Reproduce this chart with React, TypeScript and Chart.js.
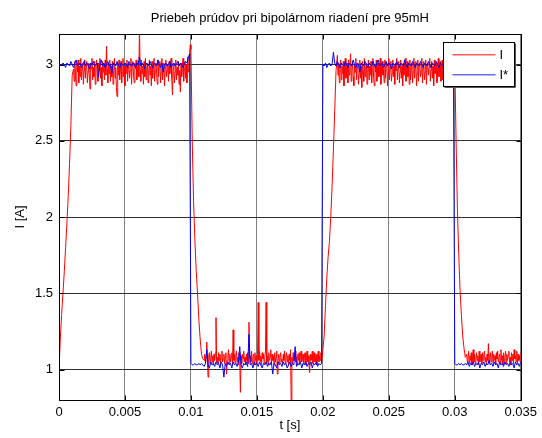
import { useEffect, useRef } from 'react';
import { Chart, registerables } from 'chart.js';

Chart.register(...registerables);

// ---------- text ----------
const chartTitle = 'Priebeh prúdov pri bipolárnom riadení pre 95mH';
const xAxisTitle = 't [s]';
const yAxisTitle = 'I [A]';
const seriesLabels = ['I', 'I*'];

// ---------- axes ----------
const xMin = 0;
const xMax = 0.035;
const yMin = 0.8;
const yMax = 3.2;
const xTickValues = [0, 0.005, 0.01, 0.015, 0.02, 0.025, 0.03, 0.035];
const xTickLabels = ['0', '0.005', '0.01', '0.015', '0.02', '0.025', '0.03', '0.035'];
const yTickValues = [1, 1.5, 2, 2.5, 3];
const yTickLabels = ['1', '1.5', '2', '2.5', '3'];

// ---------- measured current I (segments with their own start time and sample step) ----------
const I_RISE_1 = [1.0, 1.2, 1.36, 1.5, 1.64, 1.8, 1.96, 2.14, 2.35, 2.6, 2.93];
const I_HIGH_1 = [
  2.97, 2.89, 3.02, 2.93, 2.86, 3.01, 2.95, 3.03, 2.88, 2.99,
  2.92, 3.04, 2.90, 2.97, 3.01, 2.87, 2.96, 3.03, 2.91, 2.99,
  3.02, 2.88, 2.95, 3.01, 2.93, 2.84, 3.00, 2.97, 3.04, 2.90,
  2.98, 2.92, 3.02, 2.87, 2.99, 3.03, 2.94, 2.89, 3.01, 2.96,
  3.04, 2.91, 2.98, 2.86, 3.02, 2.95, 3.00, 2.90, 3.03, 2.93,
  3.12, 2.97, 2.88, 3.01, 2.94, 3.03, 2.89, 2.99, 2.92, 3.02,
  2.87, 2.96, 3.04, 2.91, 2.98, 2.85, 2.79, 3.01, 2.93, 3.03,
  2.90, 2.97, 3.02, 2.88, 2.95, 3.04, 2.92, 2.99, 2.86, 3.01,
  2.94, 3.03, 2.89, 2.98, 3.00, 2.91, 2.96, 3.04, 2.87, 2.99,
  3.02, 2.93, 2.88, 3.01, 2.97, 3.03, 2.90, 2.95, 3.02, 2.92,
  3.25, 2.96, 2.89, 3.03, 2.94, 2.99, 2.87, 3.02, 2.92, 3.04,
  2.90, 2.97, 3.01, 2.88, 2.95, 3.03, 2.93, 2.99, 2.86, 3.02,
  2.91, 2.98, 3.04, 2.89, 2.96, 3.01, 2.94, 2.87, 3.03, 2.92,
  2.99, 3.02, 2.88, 2.95, 3.04, 2.90, 2.97, 3.01, 2.86, 2.98,
  3.03, 2.92, 2.96, 3.00, 2.89, 3.02, 2.94, 2.99, 3.04, 2.91,
  2.80, 2.97, 3.01, 2.88, 2.95, 3.03, 2.90, 2.98, 2.93, 3.02,
  2.87, 2.96, 2.82, 3.01, 2.92, 2.99, 3.04, 2.89, 2.97, 3.02,
  2.91, 3.00, 2.88, 3.05, 2.95, 3.03, 3.08, 3.13,
];
const I_FALL_1 = [3.1, 2.5, 2.1, 1.85, 1.65, 1.5, 1.33, 1.2, 1.1, 1.07];
const I_LOW_1 = [
  1.06, 1.10, 1.04, 1.08, 1.18, 1.05, 0.95, 1.09, 1.11, 1.04,
  1.07, 1.12, 1.05, 1.09, 1.03, 1.10, 1.06, 1.11, 1.34, 1.05,
  1.08, 1.04, 1.11, 1.06, 1.10, 1.03, 1.09, 1.12, 1.05, 1.07,
  1.10, 1.04, 1.08, 1.11, 0.97, 1.06, 1.09, 1.13, 1.04, 1.10,
  1.05, 1.08, 1.11, 1.03, 1.26, 1.06, 1.10, 1.04, 1.09, 1.12,
  1.05, 1.08, 1.03, 1.11, 1.06, 0.85, 1.09, 1.04, 1.10, 1.07,
  1.12, 1.05, 1.08, 1.03, 1.10, 1.06, 1.11, 1.04, 1.31, 1.07,
  1.09, 1.05, 1.12, 1.04, 1.08, 1.10, 1.03, 1.11, 1.06, 1.09,
  1.04, 1.10, 1.44, 1.06, 1.12, 1.05, 1.09, 1.03, 1.11, 1.07,
  1.10, 1.04, 1.08, 1.12, 1.44, 1.05, 1.09, 1.03, 1.11, 1.06,
  1.08, 1.13, 1.04, 1.10, 1.06, 1.09, 1.03, 1.11, 1.05, 1.08,
  1.12, 0.97, 1.06, 1.10, 1.04, 1.09, 1.11, 1.05, 1.07, 1.03,
  1.10, 1.06, 1.12, 1.04, 1.08, 1.11, 1.05, 1.09, 1.03, 1.10,
  1.06, 1.13, 0.78, 1.08, 1.04, 1.11, 1.06, 1.09, 1.12, 1.05,
  1.08, 1.03, 1.10, 1.06, 1.11, 1.04, 1.09, 1.12, 1.05, 1.07,
  1.10, 1.04, 1.08, 1.11, 1.03, 1.06, 1.12, 1.05, 1.09, 1.04,
  0.98, 1.10, 1.06, 1.08, 1.12, 1.04, 1.09, 1.11, 1.05, 1.07,
  1.10, 1.03, 1.08, 1.12, 1.05, 1.09, 1.06, 1.11, 1.04, 1.08,
];
const I_RISE_2 = [1.08, 1.22, 1.42, 1.6, 1.74, 1.84, 2.0, 2.2, 2.44, 2.7, 2.96];
const I_HIGH_2 = [
  3.06, 2.93, 3.01, 2.88, 2.97, 3.03, 2.90, 2.99, 2.94, 3.02,
  2.86, 2.98, 3.04, 2.91, 2.96, 3.01, 2.88, 3.03, 2.93, 2.99,
  3.07, 2.89, 2.97, 3.02, 2.92, 2.86, 3.00, 2.95, 3.04, 2.90,
  2.98, 3.01, 2.87, 2.94, 3.03, 2.91, 2.99, 2.85, 3.02, 2.96,
  2.89, 3.04, 2.92, 2.98, 3.01, 2.87, 2.95, 3.03, 2.90, 2.99,
  2.93, 3.02, 2.88, 2.97, 3.04, 2.91, 2.86, 3.00, 2.95, 3.03,
  2.89, 2.98, 3.01, 2.92, 2.96, 3.04, 2.87, 2.99, 3.02, 2.93,
  2.97, 2.88, 3.03, 2.91, 2.99, 3.01, 2.86, 2.95, 3.04, 2.90,
  2.98, 3.02, 2.89, 2.94, 3.03, 2.92, 2.99, 2.87, 3.01, 2.96,
  3.04, 2.90, 2.97, 3.02, 2.88, 2.95, 3.03, 2.91, 2.99, 2.86,
  3.01, 2.93, 2.98, 3.04, 2.89, 2.96, 3.02, 2.92, 2.99, 2.87,
  3.03, 2.90, 2.97, 3.01, 2.88, 2.95, 3.04, 2.91, 2.98, 3.02,
  2.86, 2.94, 3.03, 2.89, 2.99, 3.01, 2.92, 2.96, 3.04, 2.88,
  2.97, 3.02, 2.90, 2.95, 3.03, 2.87, 2.99, 3.01, 2.93, 2.98,
  3.04, 2.89, 2.96, 3.02, 2.91, 2.99, 2.86, 3.03, 2.94, 2.97,
  3.01, 2.88, 2.95, 3.04, 2.92, 2.98, 3.02, 2.89, 2.96, 3.03,
  2.90, 2.99, 2.87, 3.01, 2.94, 2.98, 3.04, 2.91, 2.96, 3.02,
  2.88, 2.97, 3.03, 2.92, 2.99, 3.01, 2.89, 2.96, 3.02,
];
const I_FALL_2 = [2.5, 2.05, 1.76, 1.52, 1.36, 1.22, 1.14, 1.08];
const I_LOW_2 = [
  1.10, 1.05, 1.08, 1.12, 1.04, 1.09, 1.06, 1.11, 1.03, 1.08,
  1.13, 1.05, 1.10, 1.04, 1.07, 1.11, 1.06, 1.09, 1.03, 1.12,
  1.05, 1.08, 1.10, 1.04, 1.11, 1.06, 1.09, 1.12, 1.05, 1.08,
  1.03, 1.10, 1.06, 1.17, 1.04, 1.09, 1.11, 1.05, 1.08, 1.12,
  1.04, 1.10, 1.06, 1.09, 1.03, 1.11, 1.07, 1.12, 1.05, 1.08,
  1.10, 1.04, 1.13, 1.06, 1.09, 1.03, 1.11, 1.05, 1.08, 1.12,
  1.04, 1.10, 1.06, 1.09, 1.12, 1.05, 1.08, 1.03, 1.11, 1.06,
  1.10, 1.04, 1.13, 1.07, 1.09, 1.05, 1.12, 1.04, 1.10, 1.06,
  1.09, 1.05, 1.11,
];
const I_SEGMENTS = [I_RISE_1, I_HIGH_1, I_FALL_1, I_LOW_1, I_RISE_2, I_HIGH_2, I_FALL_2, I_LOW_2];
const I_SEGMENT_STARTS = [0, 0.0011, 0.01, 0.011, 0.02, 0.0211, 0.0301, 0.0309];
const I_SEGMENT_STEPS = [0.0001, 0.00005, 0.0001, 0.00005, 0.0001, 0.00005, 0.0001, 0.00005];

// ---------- reference current I* ----------
const REF_START = [1.0];
const REF_HIGH_1 = [
  3.00, 3.00, 2.99, 3.01, 3.00, 2.98, 3.01, 3.00, 2.99, 3.02,
  3.00, 2.98, 3.01, 3.03, 2.99, 3.00, 3.01, 2.98, 3.00, 3.02,
  2.99, 3.01, 3.00, 2.97, 3.01, 3.00, 3.02, 2.99, 3.00, 3.01,
  2.92, 3.00, 3.03, 2.99, 3.01, 2.98, 3.00, 3.02, 2.99, 3.00,
  2.94, 3.01, 3.00, 2.99, 3.02, 3.00, 2.98, 3.01, 3.00, 2.99,
  3.01, 3.00, 2.98, 3.02, 3.00, 2.99, 3.01, 3.00, 2.98, 3.01,
  3.00, 3.05, 2.99, 3.01, 3.00, 2.97, 3.01, 3.00, 2.99, 3.02,
  3.00, 2.98, 3.01, 3.00, 2.99, 3.03, 3.00, 2.98, 3.01, 2.95,
  3.00, 3.01, 2.99, 3.00, 3.02, 2.98, 3.00, 3.01, 2.99, 3.00,
  3.02, 2.99, 3.01, 3.00, 2.98, 3.01, 3.02, 3.01, 3.04, 3.07,
];
const REF_LOW_1 = [
  1.04, 1.03, 1.03, 1.04, 1.03, 1.03, 1.04, 1.03, 1.04, 1.03,
  1.02, 1.04, 1.13, 1.03, 1.01, 1.05, 1.03, 1.04, 1.02, 1.05,
  1.03, 1.04, 1.01, 1.05, 1.03, 0.95, 1.04, 1.02, 1.05, 1.03,
  1.04, 1.01, 1.05, 1.03, 1.04, 1.02, 1.05, 1.15, 1.03, 1.01,
  1.04, 1.03, 1.05, 1.02, 1.23, 1.03, 1.04, 1.01, 1.05, 1.03,
  1.04, 1.02, 1.05, 1.03, 1.01, 1.04, 1.03, 1.05, 1.02, 1.04,
  1.03, 1.05, 0.97, 1.04, 1.03, 1.01, 1.05, 1.03, 1.04, 1.02,
  1.05, 1.03, 1.04, 1.01, 1.03, 1.05, 1.02, 1.04, 1.03, 1.15,
  1.02, 1.04, 1.03, 1.05, 1.01, 1.04, 1.03, 1.05, 1.02, 1.04,
  1.03, 1.05, 1.01, 1.04, 1.03, 1.05, 1.02, 1.04, 1.03, 1.04,
];
const REF_HIGH_2 = [
  3.00, 2.99, 3.01, 2.98, 3.00, 3.01, 2.99, 3.00, 3.08, 3.01,
  2.99, 3.02, 3.00, 2.98, 3.01, 3.00, 2.99, 3.02, 3.00, 2.98,
  3.01, 3.00, 2.99, 3.03, 3.00, 2.98, 3.01, 3.00, 2.95, 3.01,
  3.00, 2.99, 3.02, 3.00, 2.98, 3.01, 3.00, 2.99, 3.02, 3.00,
  2.98, 3.01, 3.03, 2.99, 3.00, 3.01, 2.98, 3.00, 3.02, 2.99,
  3.01, 3.00, 2.97, 3.01, 3.00, 2.99, 3.02, 3.00, 2.98, 3.01,
  3.00, 2.99, 3.03, 3.00, 2.98, 3.01, 3.00, 2.99, 3.02, 3.00,
  2.98, 3.01, 3.00, 2.99, 3.02, 3.00, 2.98, 3.01, 3.00, 2.99,
  3.02, 3.00, 2.98, 3.01, 3.00, 2.99, 3.02, 3.00, 2.98, 3.01,
  3.00, 2.99, 3.02, 3.00, 2.98, 3.01, 3.00, 2.99, 3.01, 3.00,
];
const REF_LOW_2 = [
  1.04, 1.03, 1.03, 1.04, 1.03, 1.04, 1.03, 1.03, 1.04, 1.03,
  1.05, 1.02, 1.04, 1.03, 1.05, 1.02, 1.04, 1.03, 1.05, 1.01,
  1.04, 1.03, 1.05, 1.02, 1.04, 1.03, 1.06, 1.03, 1.04, 1.02,
  1.05, 1.03, 1.04, 1.01, 1.05, 1.03, 1.04, 1.02, 1.05, 1.03,
  1.04, 1.02, 1.05, 1.03, 1.04, 1.01, 1.05, 1.03, 1.04, 1.02, 1.05,
];
const REF_SEGMENTS = [REF_START, REF_HIGH_1, REF_LOW_1, REF_HIGH_2, REF_LOW_2];
const REF_SEGMENT_STARTS = [0, 0, 0.01, 0.02, 0.03];
const REF_SEGMENT_STEPS = [0.0001, 0.0001, 0.0001, 0.0001, 0.0001];

const seriesColors = ['#ff0000', '#0000ff'];

function buildPoints(segments: number[][], starts: number[], steps: number[]) {
  const pts: { x: number; y: number }[] = [];
  segments.forEach((seg, s) => {
    seg.forEach((v, k) => {
      pts.push({ x: +(starts[s] + k * steps[s]).toFixed(6), y: v });
    });
  });
  return pts;
}

const FONT = '"Liberation Sans", Arial, Helvetica, sans-serif';

const decorPlugin = {
  id: 'matlabDecor',
  afterDraw(chart: any) {
    const { ctx, chartArea: a, scales } = chart;
    ctx.save();
    ctx.globalAlpha = 1;
    // plot box
    ctx.strokeStyle = '#000';
    ctx.lineWidth = 1;
    const L = Math.round(a.left) + 0.5;
    const T = Math.round(a.top) + 0.5;
    const R = Math.round(a.right) + 0.5;
    const B = Math.round(a.bottom) + 0.5;
    ctx.strokeRect(L, T, R - L, B - T);
    // inward tick marks
    ctx.beginPath();
    xTickValues.forEach((v) => {
      const x = Math.round(scales.x.getPixelForValue(v)) + 0.5;
      ctx.moveTo(x, B);
      ctx.lineTo(x, B - 5);
      ctx.moveTo(x, T);
      ctx.lineTo(x, T + 5);
    });
    yTickValues.forEach((v) => {
      const y = Math.round(scales.y.getPixelForValue(v)) + 0.5;
      ctx.moveTo(L, y);
      ctx.lineTo(L + 5, y);
      ctx.moveTo(R, y);
      ctx.lineTo(R - 5, y);
    });
    ctx.stroke();

    // titles
    ctx.fillStyle = '#000';
    ctx.font = `13px ${FONT}`;
    ctx.textAlign = 'center';
    ctx.textBaseline = 'middle';
    const cx = (a.left + a.right) / 2;
    ctx.fillText(chartTitle, cx, a.top - 16);
    ctx.fillText(xAxisTitle, cx, a.bottom + 25);
    ctx.save();
    ctx.translate(a.left - 39, (a.top + a.bottom) / 2);
    ctx.rotate(-Math.PI / 2);
    ctx.fillText(yAxisTitle, 0, 0);
    ctx.restore();

    // legend box (inside plot, top right)
    const boxW = 71;
    const boxH = 44;
    const bx = Math.round(a.right) - 7 - boxW + 0.5;
    const by = Math.round(a.top) + 8 + 0.5;
    ctx.fillStyle = '#fff';
    ctx.fillRect(bx, by, boxW, boxH);
    ctx.strokeStyle = '#000';
    ctx.lineWidth = 1;
    ctx.strokeRect(bx, by, boxW, boxH);
    ctx.strokeStyle = '#555';
    ctx.beginPath();
    ctx.moveTo(bx + boxW + 1, by + 1);
    ctx.lineTo(bx + boxW + 1, by + boxH + 1);
    ctx.lineTo(bx + 1, by + boxH + 1);
    ctx.stroke();
    for (let i = 0; i < seriesLabels.length; i++) {
      const ly = Math.round(by + 11 + i * 20);
      ctx.fillStyle = i === 0 ? '#ff5a5a' : '#6a6aff';
      ctx.fillRect(bx + 9, ly, 43, 1.5);
      ctx.fillStyle = '#000';
      ctx.textAlign = 'left';
      ctx.font = `13px ${FONT}`;
      ctx.fillText(seriesLabels[i], bx + 56, ly + 1);
    }
    ctx.restore();
  },
};

export default function App() {
  const canvasRef = useRef<HTMLCanvasElement | null>(null);

  useEffect(() => {
    const canvas = canvasRef.current;
    if (!canvas) return;
    const iPoints = buildPoints(I_SEGMENTS, I_SEGMENT_STARTS, I_SEGMENT_STEPS);
    const refPoints = buildPoints(REF_SEGMENTS, REF_SEGMENT_STARTS, REF_SEGMENT_STEPS);

    const chart = new Chart(canvas, {
      type: 'line',
      data: {
        datasets: [
          {
            label: seriesLabels[0],
            data: iPoints,
            borderColor: seriesColors[0],
            backgroundColor: seriesColors[0],
            borderWidth: 1,
            pointRadius: 0,
            tension: 0,
            fill: false,
            order: 1,
          },
          {
            label: seriesLabels[1],
            data: refPoints,
            borderColor: seriesColors[1],
            backgroundColor: seriesColors[1],
            borderWidth: 1,
            pointRadius: 0,
            tension: 0,
            fill: false,
            order: 0,
          },
        ],
      },
      options: {
        animation: false,
        responsive: false,
        maintainAspectRatio: false,
        devicePixelRatio: 1,
        layout: { padding: { left: 0, right: 20, top: 34, bottom: 0 } },
        plugins: {
          legend: { display: false },
          title: { display: false },
          tooltip: { enabled: false },
        },
        events: [],
        scales: {
          x: {
            type: 'linear',
            min: xMin,
            max: xMax,
            afterBuildTicks: (axis: any) => {
              axis.ticks = xTickValues.map((value) => ({ value }));
            },
            afterFit: (scale: any) => {
              scale.height = 38;
            },
            ticks: {
              autoSkip: false,
              maxRotation: 0,
              minRotation: 0,
              padding: 5,
              color: '#000',
              font: { family: FONT, size: 13 },
              callback: (_v: any, i: number) => xTickLabels[i],
            },
            grid: { color: '#808080', lineWidth: 1, drawTicks: false },
            border: { display: false },
          },
          y: {
            type: 'linear',
            min: yMin,
            max: yMax,
            afterBuildTicks: (axis: any) => {
              axis.ticks = yTickValues.map((value) => ({ value }));
            },
            afterFit: (scale: any) => {
              scale.width = 59;
            },
            ticks: {
              padding: 6,
              color: '#000',
              font: { family: FONT, size: 13 },
              callback: (_v: any, i: number) => yTickLabels[i],
            },
            grid: { color: '#303030', lineWidth: 1, drawTicks: false },
            border: { display: false },
          },
        },
      },
      plugins: [decorPlugin],
    });
    return () => chart.destroy();
  }, []);

  return (
    <div style={{ position: 'absolute', left: 0, top: 0, width: 542, height: 438, background: '#fff' }}>
      <canvas ref={canvasRef} width={542} height={438} style={{ width: 542, height: 438, display: 'block' }} />
    </div>
  );
}
